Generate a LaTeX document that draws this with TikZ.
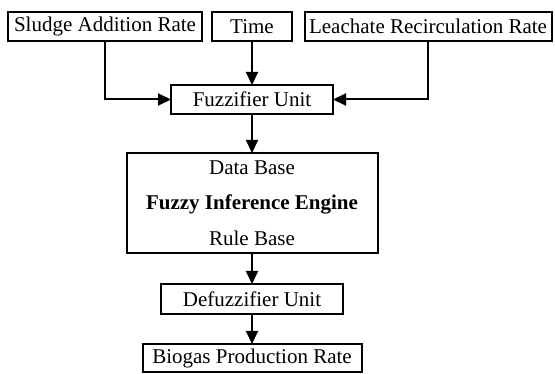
\documentclass[tikz,border=0pt]{standalone}
\usepackage{fontspec}
\setmainfont{Liberation Serif}
\usetikzlibrary{positioning, arrows.meta}

\tikzset{
  box/.style={draw, line width=2pt, inner sep=0pt, outer sep=0pt, minimum height=29pt,
    font=\fontsize{21}{25}\selectfont},
  flow/.style={line width=2pt, -{Triangle[length=13pt, width=12pt]}}
}

\begin{document}
\begin{tikzpicture}[x=1pt, y=-1pt]
  \useasboundingbox (0,0) rectangle (555,374);
  % inputs
  \node [box, minimum width=194pt] (sludge) at (105,26.5) {Sludge Addition Rate};
  \node [box, minimum width=80pt] (time) at (252,26.5) {Time};
  \node [box, minimum width=247pt] (leach) at (428,26.5) {Leachate Recirculation Rate};
  % fuzzy system
  \node [box, minimum width=162pt] (fuzz) at (252,99.5) {Fuzzifier Unit};
  \node [box, below=39pt of fuzz, minimum width=251pt, minimum height=100pt, align=center,
    font=\fontsize{21}{35.5}\selectfont] (engine)
    {Data Base\\\textbf{Fuzzy Inference Engine}\\Rule Base};
  \node [box, below=31pt of engine, minimum width=182pt, minimum height=30pt] (defuzz) {Defuzzifier Unit};
  \node [box, below=30pt of defuzz, minimum width=219pt, minimum height=28pt] (biogas) {Biogas Production Rate};
  \draw [flow] (sludge) |- (fuzz);
  \draw [flow] (time) -- (fuzz);
  \draw [flow] (leach) |- (fuzz);
  \draw [flow] (fuzz) -- (engine);
  \draw [flow] (engine) -- (defuzz);
  \draw [flow] (defuzz) -- (biogas);
\end{tikzpicture}
\end{document}
